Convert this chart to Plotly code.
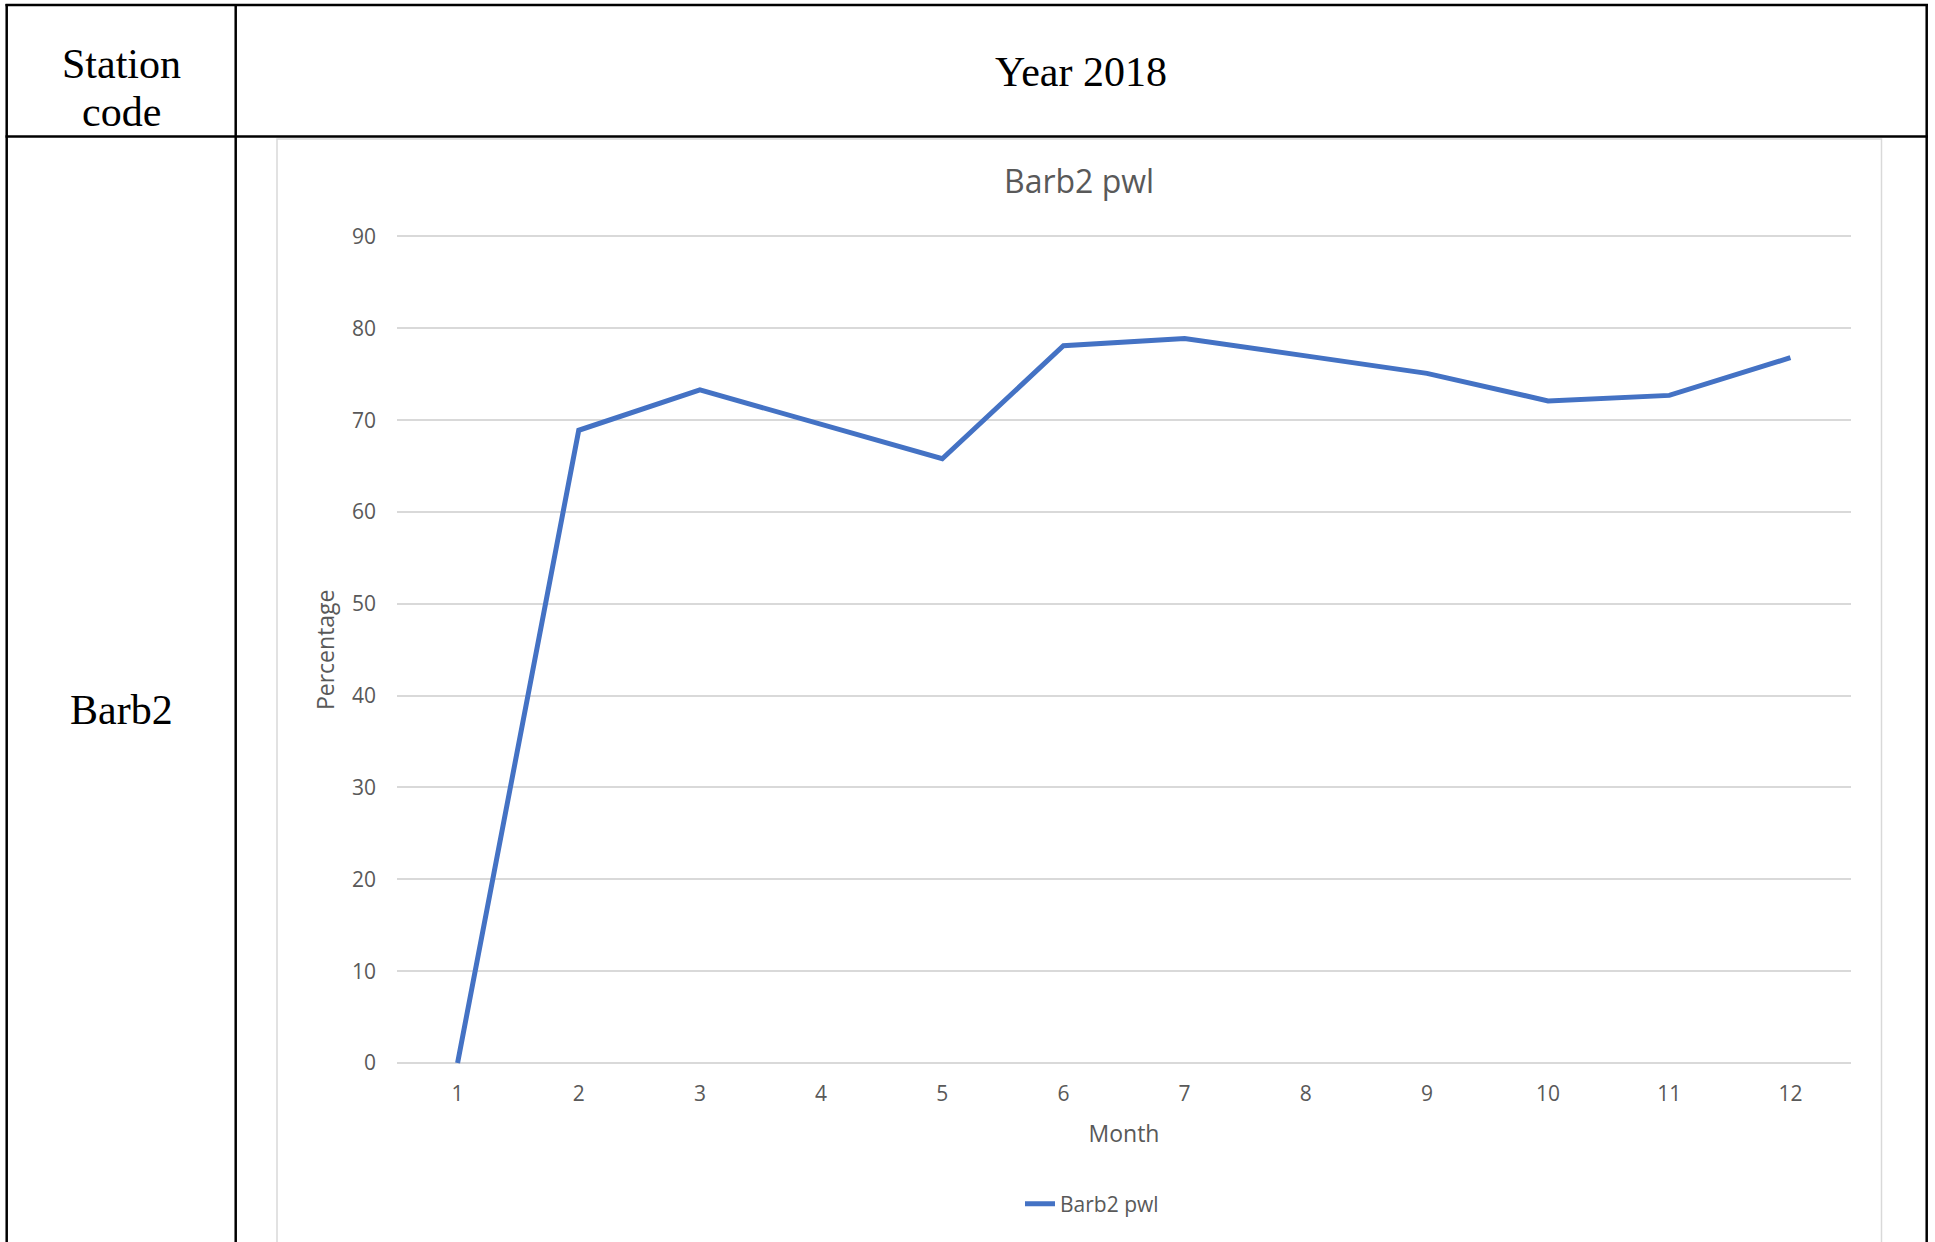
import plotly.graph_objects as go

# ---- data ----
months = [1, 2, 3, 4, 5, 6, 7, 8, 9, 10, 11, 12]
barb2_pwl = [0, 68.9, 73.3, 69.5, 65.8, 78.1, 78.9, 77.0, 75.1, 72.1, 72.7, 76.8]
y_ticks = [0, 10, 20, 30, 40, 50, 60, 70, 80, 90]

station_header = ["Station", "code"]
year_header = "Year 2018"
station_code = "Barb2"
chart_title = "Barb2 pwl"
series_name = "Barb2 pwl"

W, H = 1935, 1242


def px(x):
    return x / W


def py(y):
    return 1 - y / H


GRAY_TXT = "#595959"
SANS = "Open Sans"
SERIF = "Liberation Serif, Times New Roman, serif"

# y axis: 0 at pixel 1063, 90 at pixel 236.5 ; pad range slightly so edge gridlines draw
Y0_PX, Y90_PX = 1063.0, 236.5
ppu = (Y0_PX - Y90_PX) / 90.0
pad = 0.4
y_range = [0 - pad, 90 + pad]
y_dom = [py(Y0_PX + pad * ppu), py(Y90_PX - pad * ppu)]

fig = go.Figure()
fig.add_trace(go.Scatter(
    x=months, y=barb2_pwl, mode="lines", name=series_name,
    line=dict(color="#4472C4", width=5), showlegend=True,
))

fig.update_layout(
    width=W, height=H, autosize=False,
    margin=dict(l=0, r=0, t=0, b=0, pad=0),
    paper_bgcolor="white", plot_bgcolor="white",
    font=dict(family=SANS, color=GRAY_TXT, size=21),
    showlegend=True,
    legend=dict(
        orientation="h", x=px(1092), xanchor="center", y=py(1204), yanchor="middle",
        font=dict(family=SANS, size=21, color=GRAY_TXT), bgcolor="rgba(0,0,0,0)",
    ),
    xaxis=dict(
        domain=[px(397), px(1851)], range=[0.5, 12.5],
        tickmode="array", tickvals=months, ticktext=[str(m) for m in months],
        showgrid=False, zeroline=False, showline=False, ticks="",
        ticklabelstandoff=12, automargin=False,
        tickfont=dict(family=SANS, size=21, color=GRAY_TXT),
        title=dict(text="Month", font=dict(family=SANS, size=23, color=GRAY_TXT), standoff=20),
    ),
    yaxis=dict(
        domain=y_dom, range=y_range,
        tickmode="array", tickvals=y_ticks,
        showgrid=True, gridcolor="#d9d9d9", gridwidth=1.5,
        zeroline=False, showline=False, ticks="",
        ticklabelstandoff=20, automargin=False,
        tickfont=dict(family=SANS, size=21, color=GRAY_TXT),
        title=dict(text="Percentage", font=dict(family=SANS, size=23, color=GRAY_TXT), standoff=10),
    ),
)

shapes = []
# chart frame (light grey)
shapes.append(dict(type="rect", xref="paper", yref="paper",
                   x0=px(277), x1=px(1881.5), y0=py(1250), y1=py(139),
                   line=dict(color="#d9d9d9", width=1.5), fillcolor="rgba(0,0,0,0)", layer="below"))
# table lines (black)
blk = dict(color="black", width=2.5)
shapes.append(dict(type="line", xref="paper", yref="paper", x0=px(5.5), x1=px(1928), y0=py(5), y1=py(5), line=blk))
shapes.append(dict(type="line", xref="paper", yref="paper", x0=px(5.5), x1=px(1928), y0=py(136.5), y1=py(136.5), line=blk))
shapes.append(dict(type="line", xref="paper", yref="paper", x0=px(6.7), x1=px(6.7), y0=py(4), y1=py(1250), line=blk))
shapes.append(dict(type="line", xref="paper", yref="paper", x0=px(235.7), x1=px(235.7), y0=py(4), y1=py(1250), line=blk))
shapes.append(dict(type="line", xref="paper", yref="paper", x0=px(1926.7), x1=px(1926.7), y0=py(4), y1=py(1250), line=blk))
fig.update_layout(shapes=shapes)

ann = []
serif_font = dict(family=SERIF, size=42, color="black")
ann.append(dict(text=station_header[0], x=px(121), y=py(64), xref="paper", yref="paper",
                showarrow=False, xanchor="center", yanchor="middle", font=serif_font))
ann.append(dict(text=station_header[1], x=px(121), y=py(112), xref="paper", yref="paper",
                showarrow=False, xanchor="center", yanchor="middle", font=serif_font))
ann.append(dict(text=year_header, x=px(1081), y=py(72), xref="paper", yref="paper",
                showarrow=False, xanchor="center", yanchor="middle", font=serif_font))
ann.append(dict(text=station_code, x=px(121), y=py(710), xref="paper", yref="paper",
                showarrow=False, xanchor="center", yanchor="middle", font=serif_font))
ann.append(dict(text=chart_title, x=px(1079), y=py(181), xref="paper", yref="paper",
                showarrow=False, xanchor="center", yanchor="middle",
                font=dict(family=SANS, size=32, color=GRAY_TXT)))
fig.update_layout(annotations=ann)

fig.write_html(
    "out.html",
    config={"displayModeBar": False},
    post_script="document.body.style.margin='0';document.body.style.padding='0';document.body.style.overflow='hidden';",
)
